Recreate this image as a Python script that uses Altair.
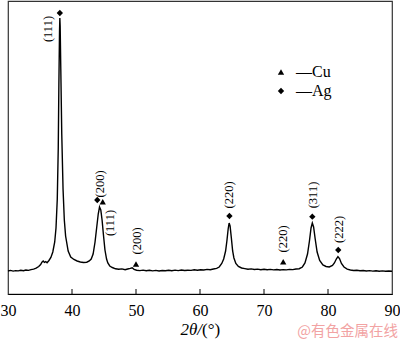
import altair as alt
import pandas as pd

# ---- XRD curve (2θ in degrees, intensity in arbitrary units) ----
two_theta = [30.0, 30.4, 30.8, 31.2, 31.6, 32.0, 32.4, 32.8, 33.2, 33.6, 34.0, 34.4, 34.8, 35.1, 35.3,
             35.5, 35.7, 35.9, 36.1, 36.4, 36.7, 37.0, 37.3, 37.5, 37.7, 37.85, 37.95, 38.05, 38.1, 38.15,
             38.25, 38.4, 38.6, 38.8, 39.0, 39.4, 39.8, 40.3, 40.8, 41.3, 41.8, 42.3, 42.7, 43.0, 43.3,
             43.6, 43.85, 44.1, 44.3, 44.5, 44.7, 44.9, 45.15, 45.4, 45.6, 45.9, 46.3, 46.8, 47.3, 47.8,
             48.3, 48.7, 49.1, 49.4, 49.7, 50.1, 50.6, 51.1, 51.6, 52.1, 52.6, 53.1, 53.6, 54.1, 54.6,
             55.1, 55.6, 56.1, 56.6, 57.1, 57.6, 58.1, 58.6, 59.1, 59.6, 60.1, 60.6, 61.1, 61.6, 62.1,
             62.6, 63.0, 63.4, 63.7, 64.0, 64.2, 64.4, 64.55, 64.7, 64.9, 65.1, 65.3, 65.6, 66.0, 66.5,
             67.0, 67.5, 68.0, 68.5, 69.0, 69.5, 70.0, 70.5, 71.0, 71.5, 72.0, 72.5, 73.0, 73.5, 74.0,
             74.5, 75.0, 75.5, 76.0, 76.4, 76.8, 77.1, 77.35, 77.55, 77.75, 78.0, 78.3, 78.7, 79.2, 79.7,
             80.2, 80.7, 81.0, 81.3, 81.55, 81.8, 82.1, 82.5, 83.0, 83.5, 84.0, 84.5, 85.0, 85.5, 86.0,
             86.5, 87.0, 87.5, 88.0, 88.5, 89.0, 89.5, 90.0]
intensity = [23.0, 23.6, 22.9, 23.4, 23.1, 23.8, 23.3, 24.0, 23.6, 24.4, 24.9, 25.8, 27.5, 29.5, 31.8,
             33.0, 31.6, 32.4, 31.2, 33.5, 36.5, 42.0, 52.0, 66.0, 95.0, 145.0, 210.0, 262.0, 276.0, 268.0,
             225.0, 160.0, 105.0, 74.0, 58.0, 43.0, 37.0, 34.5, 33.0, 32.0, 31.5, 31.8, 33.0, 35.0, 40.0,
             52.0, 66.0, 80.0, 87.0, 84.0, 74.0, 60.0, 44.0, 35.0, 31.0, 28.0, 26.5, 25.2, 24.8, 25.1,
             24.3, 25.0, 25.6, 26.2, 24.6, 23.8, 23.4, 23.9, 23.2, 23.7, 23.1, 23.6, 23.0, 23.5, 23.2,
             23.8, 23.3, 23.9, 23.4, 24.0, 23.5, 23.8, 23.6, 24.2, 23.8, 24.3, 24.0, 24.6, 24.3, 25.0,
             25.6, 27.0, 30.5, 35.0, 43.0, 53.0, 65.0, 71.0, 68.0, 56.0, 43.0, 36.0, 30.5, 27.5, 26.0,
             25.4, 24.8, 25.1, 24.5, 24.9, 24.3, 24.8, 24.2, 24.6, 24.1, 24.5, 24.0, 24.4, 24.1, 24.6,
             24.4, 25.0, 25.3, 27.0, 31.0, 40.0, 53.0, 66.0, 71.0, 67.0, 55.0, 42.0, 33.5, 29.0, 27.5,
             27.0, 28.5, 31.0, 35.0, 37.3, 35.5, 30.5, 27.0, 24.8, 24.0, 23.5, 23.7, 23.2, 23.5, 23.0,
             23.4, 22.9, 23.2, 22.8, 23.1, 22.7, 23.0, 22.8]

# ---- phase markers ----
marker_phase = ["Ag", "Ag", "Cu", "Cu", "Ag", "Cu", "Ag", "Ag"]
marker_x = [38.1, 43.95, 44.8, 50.0, 64.6, 73.0, 77.55, 81.6]
marker_y = [281, 94, 92.3, 30, 78, 32.3, 77.3, 44]

# ---- peak (hkl) labels ----
peak_labels = ["(111)", "(200)", "(111)", "(200)", "(220)", "(220)", "(311)", "(222)"]
label_x = [36.25, 44.3, 45.9, 50.15, 64.5, 73.0, 77.65, 81.7]
label_y = [265, 110, 71, 53, 99, 55, 99, 64.5]

tick_values = [30, 40, 50, 60, 70, 80, 90]
inner_ticks = [40, 50, 60, 70, 80]

W, H = 384, 293
SERIF = "Liberation Serif"

curve = pd.DataFrame({"x": two_theta, "y": intensity})
markers = pd.DataFrame({"x": marker_x, "y": marker_y, "phase": marker_phase})
labels = pd.DataFrame({"x": label_x, "y": label_y, "t": peak_labels})
ticks = pd.DataFrame({"t": inner_ticks})

xscale = alt.Scale(domain=[30, 90], nice=False)
yscale = alt.Scale(domain=[0, 293], nice=False)

xax = alt.Axis(values=tick_values, ticks=False, title=None, grid=False,
               labelFont=SERIF, labelFontSize=16, labelColor="black",
               labelPadding=8, domainColor="black", labelFlush=False)

line = alt.Chart(curve).mark_line(color="black", strokeWidth=1.4).encode(
    x=alt.X("x:Q", scale=xscale, axis=xax),
    y=alt.Y("y:Q", scale=yscale, axis=None),
)

pts = alt.Chart(markers).mark_point(filled=True, color="black", size=40, opacity=1).encode(
    x=alt.X("x:Q", scale=xscale),
    y=alt.Y("y:Q", scale=yscale),
    shape=alt.Shape("phase:N",
                    scale=alt.Scale(domain=["Cu", "Ag"], range=["triangle-up", "diamond"]),
                    legend=alt.Legend(orient="none", legendX=265, legendY=63, title=None,
                                      labelFont=SERIF, labelFontSize=16, labelColor="black",
                                      labelExpr="'—' + datum.label", symbolSize=40,
                                      symbolFillColor="black", symbolStrokeColor="black",
                                      labelOffset=7, rowPadding=3, padding=0)),
)

txt = alt.Chart(labels).mark_text(angle=270, font=SERIF, fontSize=12.5, color="black",
                                  align="center", baseline="middle").encode(
    x=alt.X("x:Q", scale=xscale),
    y=alt.Y("y:Q", scale=yscale),
    text="t:N",
)

tk = alt.Chart(ticks).mark_rule(color="black", strokeWidth=1).encode(
    x=alt.X("t:Q", scale=xscale),
    y=alt.value(H - 5),
    y2=alt.value(H),
)

title1 = alt.Chart(pd.DataFrame({"t": ["2θ/"]})).mark_text(
    font=SERIF, fontSize=17, fontStyle="italic", color="black", align="right", baseline="alphabetic"
).encode(x=alt.value(194), y=alt.value(H + 41), text="t:N")

title2 = alt.Chart(pd.DataFrame({"t": ["(°)"]})).mark_text(
    font=SERIF, fontSize=17, color="black", align="left", baseline="alphabetic"
).encode(x=alt.value(194), y=alt.value(H + 41), text="t:N")

wm = alt.Chart(pd.DataFrame({"t": ["@有色金属在线"]})).mark_text(
    font="Noto Sans CJK SC", fontSize=14.5, color="#f2a3a3", align="right", baseline="alphabetic"
).encode(x=alt.value(W + 6), y=alt.value(H + 42), text="t:N")

chart = alt.layer(line, tk, pts, txt, title1, title2, wm).properties(
    width=W, height=H, autosize="none",
    padding={"left": 8, "top": 1, "right": 8, "bottom": 47},
).configure_view(stroke="#333", strokeWidth=1.2)

chart.save("out.html", embed_options={"renderer": "svg", "actions": False})
